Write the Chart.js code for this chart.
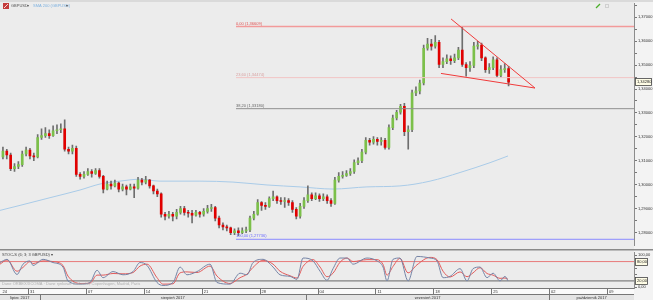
<!DOCTYPE html>
<html>
<head>
<meta charset="utf-8">
<script src="https://cdn.jsdelivr.net/npm/chart.js@4.4.0/dist/chart.umd.min.js"></script>
<style>
body{margin:0;width:653px;height:300px;overflow:hidden;background:#ececec;position:relative}
canvas{position:absolute;left:0}
#main{top:0}
#stoch{top:249px}
</style>
</head>
<body>
<canvas id="main" width="653" height="249"></canvas>
<canvas id="stoch" width="653" height="51"></canvas>
<script>
// GBPUSD, 8h candles, x axis in trading days from Mon 24 Jul 2017
var firstDay = 2.8333
var barStep = 1 / 3
var firstOpen = 1.3117

var closes = [1.3141,1.3125,1.3068,1.3077,1.3085,1.3129,1.3145,1.3121,1.3117,1.3198,
 1.3206,1.3214,1.3206,1.3226,1.3230,1.3234,1.3149,1.3141,1.3153,1.3044,
 1.3036,1.3044,1.3056,1.3048,1.3060,1.3036,1.2983,1.3004,1.2996,1.3008,
 1.2983,1.2992,1.2983,1.2992,1.2987,1.3020,1.3012,1.3020,1.2996,1.2975,
 1.2963,1.2878,1.2870,1.2878,1.2870,1.2886,1.2902,1.2886,1.2882,1.2874,
 1.2886,1.2878,1.2890,1.2902,1.2906,1.2862,1.2833,1.2825,1.2821,1.2801,
 1.2809,1.2801,1.2809,1.2813,1.2862,1.2878,1.2927,1.2915,1.2911,1.2943,
 1.2951,1.2935,1.2931,1.2935,1.2927,1.2898,1.2870,1.2911,1.2935,1.2959,
 1.2943,1.2955,1.2943,1.2951,1.2935,1.2923,1.3020,1.3036,1.3040,1.3048,
 1.3056,1.3093,1.3101,1.3137,1.3186,1.3178,1.3190,1.3182,1.3186,1.3157,
 1.3239,1.3279,1.3303,1.3328,1.3222,1.3230,1.3384,1.3392,1.3425,1.3570,
 1.3587,1.3579,1.3595,1.3502,1.3514,1.3526,1.3518,1.3530,1.3562,1.3502,
 1.3489,1.3498,1.3579,1.3583,1.3530,1.3481,1.3489,1.3522,1.3457,1.3481,
 1.3485,1.3428]

var highs = [1.3158,1.3149,1.3133,1.3089,1.3097,1.3141,1.3158,1.3153,1.3133,1.3210,
 1.3234,1.3239,1.3230,1.3247,1.3251,1.3255,1.3271,1.3158,1.3166,1.3162,
 1.3052,1.3056,1.3068,1.3064,1.3068,1.3068,1.3040,1.3016,1.3016,1.3020,
 1.3012,1.3004,1.3000,1.3004,1.3004,1.3032,1.3028,1.3036,1.3024,1.3000,
 1.2983,1.2967,1.2886,1.2890,1.2886,1.2898,1.2911,1.2911,1.2894,1.2894,
 1.2894,1.2890,1.2902,1.2915,1.2919,1.2911,1.2870,1.2842,1.2833,1.2825,
 1.2817,1.2821,1.2821,1.2825,1.2870,1.2890,1.2939,1.2931,1.2927,1.2951,
 1.2975,1.2955,1.2947,1.2947,1.2943,1.2935,1.2906,1.2923,1.2947,1.2996,
 1.2967,1.2967,1.2963,1.2963,1.2959,1.2943,1.3032,1.3052,1.3056,1.3060,
 1.3068,1.3105,1.3113,1.3149,1.3198,1.3194,1.3202,1.3198,1.3198,1.3194,
 1.3251,1.3291,1.3311,1.3336,1.3340,1.3247,1.3396,1.3409,1.3437,1.3583,
 1.3611,1.3607,1.3623,1.3603,1.3530,1.3542,1.3538,1.3546,1.3574,1.3660,
 1.3510,1.3514,1.3595,1.3599,1.3591,1.3534,1.3506,1.3534,1.3530,1.3498,
 1.3506,1.3494]

var lows = [1.3109,1.3109,1.3060,1.3056,1.3068,1.3077,1.3121,1.3109,1.3101,1.3113,
 1.3190,1.3198,1.3194,1.3202,1.3214,1.3218,1.3141,1.3129,1.3129,1.3036,
 1.3024,1.3028,1.3040,1.3032,1.3044,1.3028,1.2967,1.2979,1.2983,1.2992,
 1.2971,1.2975,1.2959,1.2979,1.2947,1.2983,1.3000,1.3004,1.2987,1.2963,
 1.2951,1.2866,1.2854,1.2862,1.2850,1.2858,1.2878,1.2874,1.2866,1.2842,
 1.2870,1.2866,1.2870,1.2882,1.2890,1.2850,1.2821,1.2813,1.2809,1.2793,
 1.2793,1.2789,1.2797,1.2801,1.2805,1.2854,1.2874,1.2894,1.2898,1.2906,
 1.2935,1.2923,1.2919,1.2906,1.2915,1.2886,1.2858,1.2862,1.2902,1.2927,
 1.2935,1.2939,1.2931,1.2935,1.2923,1.2911,1.2919,1.3012,1.3028,1.3036,
 1.3040,1.3048,1.3085,1.3093,1.3129,1.3166,1.3170,1.3166,1.3166,1.3149,
 1.3149,1.3230,1.3271,1.3295,1.3206,1.3149,1.3222,1.3372,1.3380,1.3417,
 1.3562,1.3562,1.3570,1.3489,1.3489,1.3506,1.3502,1.3510,1.3522,1.3494,
 1.3453,1.3473,1.3489,1.3566,1.3518,1.3469,1.3465,1.3481,1.3449,1.3449,
 1.3469,1.3413]

var smaDays = [2.58,4.31,6.90,9.49,11.22,12.94,14.67,16.40,19.85,22.70,25.64,28.49,31.34,34.27,37.12,39.72,42.31,44.90,46.45]
var smaVals = [1.2894,1.2915,1.2947,1.2979,1.3004,1.3016,1.3024,1.3016,1.3016,1.3012,1.3000,1.2992,1.2983,1.2992,1.2996,1.3016,1.3052,1.3093,1.3121]

var fibPct = ['0,00','23,60','38,20','100,00']
var fibLevels = [1.36609, 1.34474, 1.33180, 1.27736]
var fibStartDay = 22.96

var trendUpperDays = [41.53, 48.78]
var trendUpperVals = [1.3692, 1.3404]
var trendLowerDays = [40.66, 48.78]
var trendLowerVals = [1.3465, 1.3404]

var priceTicks = [1.28,1.285,1.29,1.295,1.30,1.305,1.31,1.315,1.32,1.325,1.33,1.335,1.34,1.345,1.35,1.355,1.36,1.365,1.37,1.375]

var stochDays = [2.58,3.19,4.05,4.57,5.17,5.43,6.30,7.16,8.02,8.45,9.49,10.35,10.96,11.48,12.34,13.20,14.07,14.67,15.28,16.14,
 16.66,17.52,18.13,18.73,19.59,20.72,21.32,22.44,23.31,23.91,24.43,25.29,26.16,26.76,27.63,28.23,28.75,29.61,30.22,30.82,
 31.34,31.94,32.55,33.07,34.27,35.14,35.66,36.00,36.52,37.12,37.82,38.59,39.72,40.32,40.84,41.44,42.31,42.91,43.43,44.03,
 44.64,45.16,45.76,46.19,46.45]
var stochK = [77,87,40,72,82,68,87,77,63,20,10,15,53,30,49,39,49,77,68,15,
 6,15,63,39,49,72,15,10,44,39,77,87,63,39,34,25,91,82,50,22,
 58,91,91,72,91,82,63,20,87,91,20,96,91,82,30,34,58,20,58,63,
 30,44,20,34,20]
var stochD = [72,85,50,62,80,74,82,80,68,35,12,13,38,38,43,42,46,66,72,30,
 10,11,45,48,46,66,35,12,30,41,62,84,72,50,36,29,65,86,63,33,
 44,78,91,80,86,86,71,38,65,90,45,70,93,86,50,32,48,33,45,61,
 43,38,28,29,25]
var stochTicks = [0,10,20,30,40,50,60,70,80,90,100]

var weekDays = [0,5,10,15,20,25,30,35,40,45,50,55]
var weekLabels = ['24','31','07','14','21','28','04','11','18','25','02','09']
var monthDays = [null,6,29,50]
var monthLabels = ['lipiec 2017','sierpień 2017','wrzesień 2017','październik 2017']

var xMin = 2.58, xMax = 57.33
var FONT = '"Liberation Sans", Arial, sans-serif'

function fmt(v, d){ return v.toFixed(d).replace('.', ',') }

var opens = closes.map(function(c, i){ return i ? closes[i-1] : firstOpen })
var days = closes.map(function(c, i){ return firstDay + i * barStep })

function pts(xs, ys){ return xs.map(function(x, i){ return {x: x, y: ys[i]} }) }

var fibColors = ['#f29a9a','#f2c4c4','#8f8f8f','#8a8aff']
var fibText = ['#e05050','#d8a0a0','#666666','#6a6aff']

var datasets = [
  {
    type: 'line', data: pts(smaDays, smaVals), borderColor: '#a9cbe8', borderWidth: 1,
    pointRadius: 0, cubicInterpolationMode: 'monotone', order: 5
  },
  {
    type: 'bar', data: days.map(function(d, i){ return {x: d, y: [lows[i], highs[i]]} }),
    backgroundColor: '#6e6e6e', barThickness: 1, grouped: false, order: 4
  },
  {
    type: 'bar', data: days.map(function(d, i){ return {x: d, y: [opens[i], closes[i]]} }),
    backgroundColor: closes.map(function(c, i){ return c >= opens[i] ? '#7cc04a' : '#e10000' }),
    barThickness: 2, minBarLength: 1, grouped: false, order: 3
  }
]
fibLevels.forEach(function(v, i){
  datasets.push({
    type: 'line', data: pts([fibStartDay, xMax], [v, v]), borderColor: fibColors[i],
    borderWidth: i == 0 ? 1.5 : 1, pointRadius: 0, order: 2
  })
})
datasets.push({type: 'line', data: pts(trendUpperDays, trendUpperVals), borderColor: '#f03a3a', borderWidth: 1, pointRadius: 0, order: 1})
datasets.push({type: 'line', data: pts(trendLowerDays, trendLowerVals), borderColor: '#f03a3a', borderWidth: 1, pointRadius: 0, order: 1})

var mainDecor = {
  id: 'mainDecor',
  beforeDraw: function(chart){
    var ctx = chart.ctx, a = chart.chartArea
    ctx.save()
    ctx.fillStyle = '#f3f3f3'
    ctx.fillRect(a.right, 0, chart.width - a.right, chart.height)
    ctx.fillStyle = '#dadada'
    ctx.fillRect(0, 0, chart.width, 2)
    ctx.restore()
  },
  afterDraw: function(chart){
    var ctx = chart.ctx, a = chart.chartArea
    var xs = chart.scales.x, ys = chart.scales.y
    ctx.save()
    ctx.font = '4px ' + FONT
    ctx.textBaseline = 'bottom'
    fibLevels.forEach(function(v, i){
      ctx.fillStyle = fibText[i]
      ctx.fillText(fibPct[i] + ' (' + fmt(v, 5) + ')', xs.getPixelForValue(fibStartDay), ys.getPixelForValue(v) - 1)
    })
    // current price box
    var last = closes[closes.length - 1]
    var py = Math.round(ys.getPixelForValue(last))
    ctx.fillStyle = '#fffde6'
    ctx.fillRect(a.right + 1, py - 3, 16, 7)
    ctx.strokeStyle = '#444'
    ctx.lineWidth = 0.8
    ctx.strokeRect(a.right + 1.5, py - 3.5, 16, 7)
    ctx.fillStyle = '#222'
    ctx.textBaseline = 'middle'
    ctx.fillText(fmt(last, 5), a.right + 3, py)
    // legend
    ctx.fillStyle = '#c43a3a'
    ctx.fillRect(3, 3, 6, 6)
    ctx.strokeStyle = '#fff'
    ctx.lineWidth = 0.8
    ctx.beginPath(); ctx.moveTo(4, 8); ctx.lineTo(8, 4); ctx.stroke()
    ctx.textBaseline = 'middle'
    ctx.fillStyle = '#555'
    ctx.fillText('GBPUSD', 11, 6)
    ctx.fillText('▾', 27, 6)
    ctx.fillStyle = '#7fb2e0'
    ctx.fillText('SMA 200 (GBPUSD)', 33, 6)
    ctx.fillStyle = '#555'
    ctx.fillText('▾', 66, 6)
    // top right icons
    ctx.strokeStyle = '#4caf2a'
    ctx.lineWidth = 1.2
    ctx.beginPath(); ctx.moveTo(596, 8); ctx.lineTo(600, 4); ctx.stroke()
    ctx.strokeStyle = '#d0d0d0'
    ctx.lineWidth = 1
    ctx.strokeRect(605.5, 4.5, 3, 3)
    ctx.restore()
  }
}

new Chart(document.getElementById('main'), {
  type: 'bar',
  data: {datasets: datasets},
  options: {
    responsive: false, animation: false, events: [],
    layout: {padding: 0},
    plugins: {legend: {display: false}, tooltip: {enabled: false}},
    scales: {
      x: {type: 'linear', min: xMin, max: xMax, offset: false, display: false},
      y: {
        type: 'linear', position: 'right', min: 1.27473, max: 1.37568,
        afterFit: function(s){ s.width = 19 },
        afterBuildTicks: function(s){ s.ticks = priceTicks.map(function(v){ return {value: v} }) },
        ticks: {
          font: {size: 4, family: FONT}, color: '#333', padding: 1,
          callback: function(v){ return Math.abs(v * 100 - Math.round(v * 100)) < 1e-6 ? fmt(v, 5) : '' }
        },
        grid: {drawOnChartArea: false, tickLength: 3, color: '#777'},
        border: {color: '#8c8c8c'}
      }
    }
  },
  plugins: [mainDecor]
})

var stochDecor = {
  id: 'stochDecor',
  beforeDraw: function(chart){
    var ctx = chart.ctx, a = chart.chartArea
    ctx.save()
    ctx.fillStyle = '#f3f3f3'
    ctx.fillRect(a.right, 0, chart.width - a.right, chart.height)
    ctx.fillStyle = '#8a8a8a'
    ctx.fillRect(0, 0, chart.width, 1.5)
    ctx.restore()
  },
  afterDraw: function(chart){
    var ctx = chart.ctx, a = chart.chartArea
    var xs = chart.scales.x, ys = chart.scales.y
    ctx.save()
    ctx.font = '4px ' + FONT
    ctx.textBaseline = 'middle'
    ctx.fillStyle = '#444'
    ctx.fillText('STOC-S (6; 3; 3 GBPUSD) ▾', 2, 6)
    ctx.fillStyle = '#b0b0b0'
    ctx.fillText('Dane ORBEX/XCOMA · Dane rynkowe Brokerów, Copenhagen, Madrid, Paris', 2, 35)
    // boxed levels
    ;[80, 20].forEach(function(v){
      var py = Math.round(ys.getPixelForValue(v))
      ctx.fillStyle = '#fffde6'
      ctx.fillRect(a.right + 1, py - 3, 12, 7)
      ctx.strokeStyle = '#444'
      ctx.lineWidth = 0.8
      ctx.strokeRect(a.right + 1.5, py - 3.5, 12, 7)
      ctx.fillStyle = '#222'
      ctx.fillText(fmt(v, 2), a.right + 3, py)
    })
    // date rows
    var r1 = a.bottom, r2 = a.bottom + 6, r3 = chart.height
    ctx.fillStyle = '#fafafa'
    ctx.fillRect(0, r1, a.right, r2 - r1)
    ctx.fillStyle = '#e4e4e4'
    ctx.fillRect(0, r2, a.right, r3 - r2)
    ctx.strokeStyle = '#777'
    ctx.lineWidth = 1
    ctx.beginPath()
    ctx.moveTo(0, r1 + 0.5); ctx.lineTo(a.right, r1 + 0.5)
    ctx.moveTo(0, r2 + 0.5); ctx.lineTo(a.right, r2 + 0.5)
    ctx.stroke()
    ctx.fillStyle = '#333'
    weekDays.forEach(function(d, i){
      var px = xs.getPixelForValue(d)
      if (px > a.right) return
      if (px < a.left) px = a.left + 0.5
      else {
        ctx.beginPath(); ctx.moveTo(Math.round(px) + 0.5, r1); ctx.lineTo(Math.round(px) + 0.5, r2); ctx.stroke()
      }
      ctx.fillText(weekLabels[i], px + 2, (r1 + r2) / 2 + 0.5)
    })
    ctx.textAlign = 'center'
    monthDays.forEach(function(d, i){
      var x0 = d === null ? a.left : xs.getPixelForValue(d)
      var x1 = i + 1 < monthDays.length ? xs.getPixelForValue(monthDays[i + 1]) : a.right
      if (d !== null) {
        ctx.beginPath(); ctx.moveTo(Math.round(x0) + 0.5, r2); ctx.lineTo(Math.round(x0) + 0.5, r3); ctx.stroke()
      }
      ctx.fillText(monthLabels[i], (x0 + x1) / 2, (r2 + r3) / 2 + 0.5)
    })
    ctx.restore()
  }
}

new Chart(document.getElementById('stoch'), {
  type: 'line',
  data: {
    datasets: [
      {data: pts([xMin, xMax], [80, 80]), borderColor: '#e87a7a', borderWidth: 1, pointRadius: 0, order: 3},
      {data: pts([xMin, xMax], [20, 20]), borderColor: '#666', borderWidth: 1, pointRadius: 0, order: 3},
      {data: pts(stochDays, stochD), borderColor: '#e25a5a', borderWidth: 1, pointRadius: 0, cubicInterpolationMode: 'monotone', order: 2},
      {data: pts(stochDays, stochK), borderColor: '#7584a6', borderWidth: 1, pointRadius: 0, cubicInterpolationMode: 'monotone', order: 1}
    ]
  },
  options: {
    responsive: false, animation: false, events: [],
    layout: {padding: {bottom: 12}},
    plugins: {legend: {display: false}, tooltip: {enabled: false}},
    scales: {
      x: {type: 'linear', min: xMin, max: xMax, display: false},
      y: {
        type: 'linear', position: 'right', min: -2, max: 108.5,
        afterFit: function(s){ s.width = 19 },
        afterBuildTicks: function(s){ s.ticks = stochTicks.map(function(v){ return {value: v} }) },
        ticks: {
          font: {size: 4, family: FONT}, color: '#333', padding: 1,
          callback: function(v){ return (v == 0 || v == 50 || v == 100) ? fmt(v, 2) : '' }
        },
        grid: {drawOnChartArea: false, tickLength: 3, color: '#777'},
        border: {color: '#8c8c8c'}
      }
    }
  },
  plugins: [stochDecor]
})
</script>
</body>
</html>
